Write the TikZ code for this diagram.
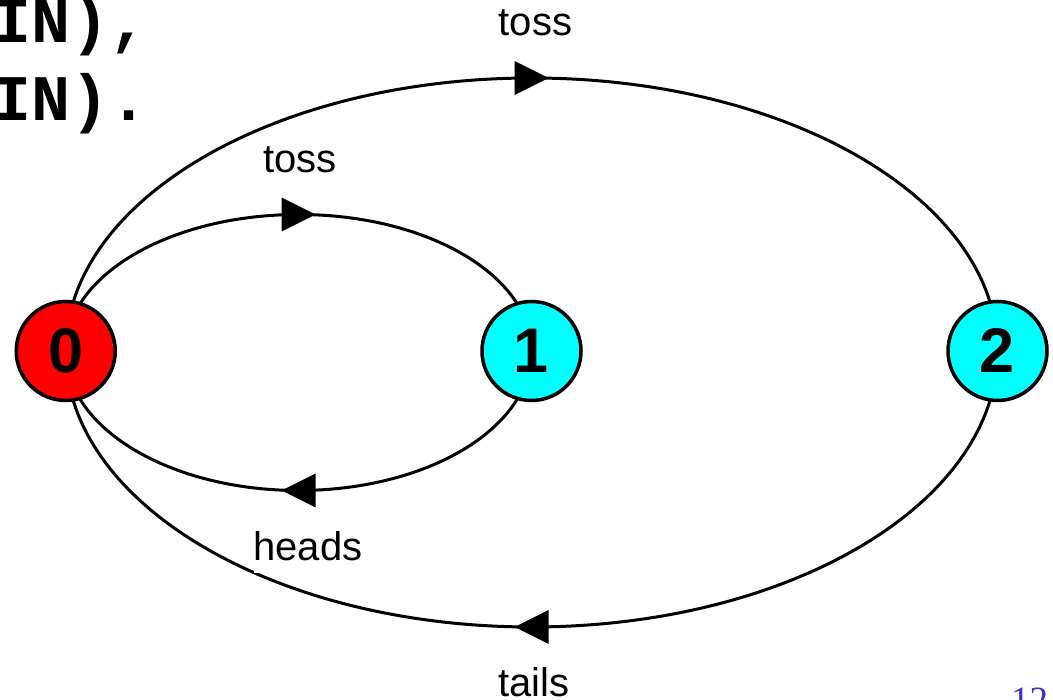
\documentclass[tikz,border=0pt]{standalone}
\usepackage{fontspec}
\setmainfont{Liberation Sans}
\newfontfamily\codefont{Liberation Mono}
\newfontfamily\pagefont{Liberation Serif}
\usetikzlibrary{decorations.markings}
\pgfdeclarelayer{background}
\pgfsetlayers{background,main}
\definecolor{pgblue}{RGB}{51,51,204}
\definecolor{statered}{RGB}{255,0,0}
\definecolor{statecyan}{RGB}{0,255,255}
\begin{document}
\begin{tikzpicture}[x=1pt,y=1pt,
  state/.style={circle, draw, line width=3.5pt, minimum size=99pt, inner sep=0pt,
    font=\fontsize{63}{63}\selectfont\bfseries},
  conn/.style={line width=3pt},
  midarrow/.style={postaction={decorate}, decoration={markings,
    mark=at position 0.5 with {\fill (-17pt,-17pt) -- (17pt,0pt) -- (-17pt,17pt) -- cycle;}}},
  lbl/.style={font=\fontsize{40}{40}\selectfont, inner sep=0pt, anchor=base},
  codetext/.style={anchor=base west, inner sep=0pt, font=\codefont\bfseries\fontsize{65}{65}\selectfont}]
\useasboundingbox (0,0) rectangle (1053,700);

% states
\node[state, fill=statered]  (n0) at (65.75,349) {0};
\node[state, fill=statecyan] (n1) at (531.5,349) {1};
\node[state, fill=statecyan] (n2) at (997.5,349) {2};

% connectors (behind the states)
\begin{pgfonlayer}{background}
\draw[conn, midarrow] (n0.center) arc[start angle=180, end angle=0, x radius=465.875pt, y radius=273pt];
\draw[conn, midarrow] (n2.center) arc[start angle=0, end angle=-180, x radius=465.875pt, y radius=276pt];
\draw[conn, midarrow] (n0.center) arc[start angle=180, end angle=0, x radius=232.875pt, y radius=136.5pt];
\draw[conn, midarrow] (n1.center) arc[start angle=0, end angle=-180, x radius=232.875pt, y radius=139.5pt];
\end{pgfonlayer}

% labels
\node[lbl] (tossOuter) at (535.5,664) {toss};
\node[lbl] (tossInner) at (300,527) {toss};
\node[lbl, fill=white, text depth=12pt] (heads) at (308,139) {heads};
\node[lbl] (tails) at (534,3) {tails};

% cut-off texts
\node[codetext] (code1) at (-8,657) {IN),};
\node[codetext] (code2) at (-8,579) {IN).};
\node[anchor=base west, inner sep=0pt, text=pgblue, font=\pagefont\fontsize{37}{37}\selectfont] (pagenum) at (1011,-13) {12};
\end{tikzpicture}
\end{document}
